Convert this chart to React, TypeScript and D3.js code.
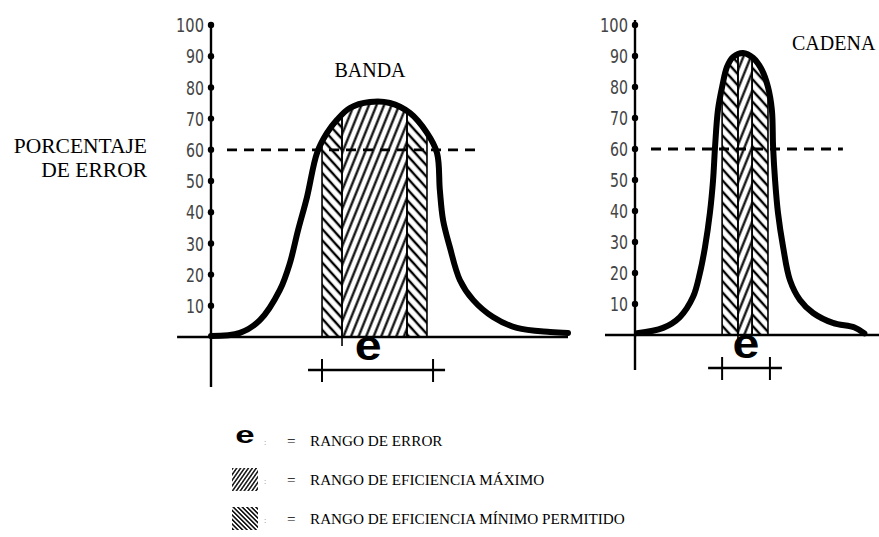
import React from 'react';
import * as d3 from 'd3';

// porcentaje de error (eje vertical)
const PCT_TICKS = [10, 20, 30, 40, 50, 60, 70, 80, 90, 100];
const UMBRAL = 60;

// curva BANDA (posición 0-100, % de error)
const BANDA_POS = [0, 8.1, 13.7, 19.3, 22.1, 24.4, 26.9, 29.7, 32.5, 35.3, 38.9, 44.5, 50.1, 55.7, 60.5, 63.3, 64.1, 65.0, 66.9, 69.7, 73.4, 79.0, 85.7, 95.0, 100];
const BANDA_PCT = [0.3, 1.3, 5.4, 15.1, 23.7, 34.3, 44.9, 59.0, 65.4, 69.6, 73.4, 75.3, 75.0, 71.8, 65.4, 59.0, 47.1, 37.5, 28.8, 18.3, 11.9, 6.4, 2.9, 1.6, 1.3];
const BANDA_RANGOS: [number, number, string][] = [[31.1, 36.7, 'min'], [36.7, 54.9, 'max'], [54.9, 60.5, 'min']];
const BANDA_ERROR = [31.1, 62.2];
const BANDA_E = 44;

// curva CADENA
const CADENA_POS = [0.8, 11.5, 18.4, 23.8, 26.6, 28.7, 30.7, 32.0, 32.8, 34.0, 35.7, 37.7, 40.2, 44.3, 48.4, 52.0, 54.5, 56.1, 56.6, 57.4, 58.6, 60.7, 63.5, 67.6, 73.0, 81.1, 90.0, 94.0];
const CADENA_PCT = [0.6, 2.3, 5.8, 12.3, 20.0, 28.4, 39.4, 50.0, 60.6, 72.6, 80.0, 86.5, 89.7, 91.0, 89.4, 85.5, 80.0, 72.6, 60.6, 50.0, 39.4, 28.4, 17.7, 11.3, 7.1, 3.9, 2.4, 0.5];
const CADENA_RANGOS: [number, number, string][] = [[35.7, 42.2, 'min'], [42.2, 48.0, 'max'], [48.0, 54.5, 'min']];
const CADENA_ERROR = [35.7, 55.3];
const CADENA_E = 45.5;

const LEGEND_ITEMS = ['RANGO DE ERROR', 'RANGO DE EFICIENCIA MÁXIMO', 'RANGO DE EFICIENCIA MÍNIMO PERMITIDO'];

const SERIF = '"Liberation Serif", "Times New Roman", serif';
const HAND = '"DejaVu Sans", sans-serif';
const SANS = '"Liberation Sans", Arial, sans-serif';

interface PanelProps {
    id: string;
    pos: number[];
    pct: number[];
    rangos: [number, number, string][];
    error: number[];
    ePos: number;
    xRange: [number, number];
    yRange: [number, number];
    axisSpan: [number, number];
    baseFrom: number;
    dashTo: number;
}

const Panel = ({ id, pos, pct, rangos, error, ePos, xRange, yRange, axisSpan, baseFrom, dashTo }: PanelProps) => {
    const x = d3.scaleLinear().domain([0, 100]).range(xRange);
    const y = d3.scaleLinear().domain([0, 100]).range(yRange);
    const pts: [number, number][] = pos.map((p, i) => [p, pct[i]]);

    const line = d3.line<[number, number]>()
        .x(d => x(d[0]))
        .y(d => y(d[1]))
        .curve(d3.curveCatmullRom.alpha(0.5));
    const area = d3.area<[number, number]>()
        .x(d => x(d[0]))
        .y0(y(0))
        .y1(d => y(d[1]))
        .curve(d3.curveCatmullRom.alpha(0.5));

    const x0 = x(0);
    const eY = y(0) + 33;
    const ex = x(ePos);
    return (
        <g>
            <defs>
                <clipPath id={`clip-${id}`}>
                    <path d={area(pts) || ''} />
                </clipPath>
            </defs>

            {/* zonas rayadas */}
            <g clipPath={`url(#clip-${id})`}>
                {rangos.map(([a, b, k], i) => (
                    <g key={i}>
                        <rect x={x(a)} y={y(100)} width={x(b) - x(a)} height={y(0) - y(100)}
                            fill={k === 'max' ? 'url(#hatchMax)' : 'url(#hatchMin)'} />
                        <line x1={x(a)} x2={x(a)} y1={y(100)} y2={y(0)} stroke="#000" strokeWidth={1.6} />
                        <line x1={x(b)} x2={x(b)} y1={y(100)} y2={y(0)} stroke="#000" strokeWidth={1.6} />
                    </g>
                ))}
            </g>

            {/* ejes */}
            <line x1={x0} x2={x0} y1={axisSpan[0]} y2={axisSpan[1]} stroke="#000" strokeWidth={2.4} />
            <line x1={x(baseFrom)} x2={x(100)} y1={y(0)} y2={y(0)} stroke="#000" strokeWidth={2.6} />
            <line x1={x(rangos[1][0])} x2={x(rangos[1][0])} y1={y(0)} y2={y(0) + 9} stroke="#000" strokeWidth={1.6} />
            {PCT_TICKS.map(t => (
                <g key={t}>
                    <circle cx={x0} cy={y(t)} r={3.2} fill="#000" />
                    <text x={x0 - 7} y={y(t)} dy="0.36em" textAnchor="end" fontFamily={HAND}
                        fontSize={20} fill="#444" textLength={t === 100 ? 28 : 18} lengthAdjust="spacingAndGlyphs">
                        {t}
                    </text>
                </g>
            ))}

            {/* umbral */}
            <line x1={x0 + 16} x2={x(dashTo)} y1={y(UMBRAL)} y2={y(UMBRAL)} stroke="#000"
                strokeWidth={2.8} strokeDasharray="10 7" />

            {/* curva */}
            <path d={line(pts) || ''} fill="none" stroke="#000" strokeWidth={6} strokeLinejoin="round" strokeLinecap="round" />

            {/* rango de error */}
            <text x={ex} y={eY - 10} textAnchor="middle" fontFamily={SANS} fontWeight="bold" fontSize={42}
                transform={`translate(${ex} 0) scale(1.15 1) translate(${-ex} 0)`}>e</text>
            <line x1={x(error[0]) - 14} x2={x(error[1]) + 12} y1={eY} y2={eY} stroke="#000" strokeWidth={2.6} />
            {error.map((e, i) => (
                <line key={i} x1={x(e)} x2={x(e)} y1={eY - 11} y2={eY + 12} stroke="#000" strokeWidth={2} />
            ))}
        </g>
    );
};

const App = () => {
    const legendY = [446, 485, 524];
    return (
        <svg width={879} height={537} style={{ position: 'absolute', left: 0, top: 0, background: '#fff' }}>
            <defs>
                <pattern id="hatchMax" patternUnits="userSpaceOnUse" width={7} height={7} patternTransform="rotate(22)">
                    <line x1={3.5} y1={0} x2={3.5} y2={7} stroke="#000" strokeWidth={2.2} />
                </pattern>
                <pattern id="hatchMin" patternUnits="userSpaceOnUse" width={7.5} height={7.5} patternTransform="rotate(-42)">
                    <line x1={3.7} y1={0} x2={3.7} y2={7.5} stroke="#000" strokeWidth={2.4} />
                </pattern>
                <pattern id="legMax" patternUnits="userSpaceOnUse" width={3.2} height={3.2} patternTransform="rotate(35)">
                    <line x1={1.6} y1={0} x2={1.6} y2={3.2} stroke="#000" strokeWidth={1.4} />
                </pattern>
                <pattern id="legMin" patternUnits="userSpaceOnUse" width={3.2} height={3.2} patternTransform="rotate(-45)">
                    <line x1={1.6} y1={0} x2={1.6} y2={3.2} stroke="#000" strokeWidth={1.5} />
                </pattern>
            </defs>

            <Panel id="banda" pos={BANDA_POS} pct={BANDA_PCT} rangos={BANDA_RANGOS} error={BANDA_ERROR}
                ePos={BANDA_E} xRange={[211, 568]} yRange={[337, 25]} axisSpan={[22, 387]} baseFrom={-9.5} dashTo={75.4} />
            <Panel id="cadena" pos={CADENA_POS} pct={CADENA_PCT} rangos={CADENA_RANGOS} error={CADENA_ERROR}
                ePos={CADENA_E} xRange={[635, 879]} yRange={[335, 25]} axisSpan={[20, 370]} baseFrom={-12.3} dashTo={85.2} />

            <g fontFamily={SERIF} fontSize={20} fill="#000">
                <text x={370} y={77} textAnchor="middle">BANDA</text>
                <text x={792} y={50}>CADENA</text>
            </g>
            <g fontFamily={SERIF} fontSize={21.5} fill="#000" textAnchor="end">
                <text x={147} y={153}>PORCENTAJE</text>
                <text x={147} y={177}>DE ERROR</text>
            </g>

            {/* leyenda */}
            <g fontFamily={SERIF} fontSize={15.2} fill="#000">
                <text x={245} y={legendY[0] - 3} textAnchor="middle" fontFamily={SANS}
                    fontWeight="bold" fontSize={24} transform={`translate(245 0) scale(1.45 1) translate(-245 0)`}>e</text>
                <rect x={232} y={legendY[1] - 17} width={26} height={23} fill="url(#legMax)" />
                <rect x={232} y={legendY[2] - 17} width={26} height={23} fill="url(#legMin)" />
                {LEGEND_ITEMS.map((t, i) => (
                    <g key={t}>
                        <text x={264} y={legendY[i] - 1} fontSize={8} fill="#777">:</text>
                        <text x={287} y={legendY[i]}>=</text>
                        <text x={310} y={legendY[i]}>{t}</text>
                    </g>
                ))}
            </g>
        </svg>
    );
};

export default App;
